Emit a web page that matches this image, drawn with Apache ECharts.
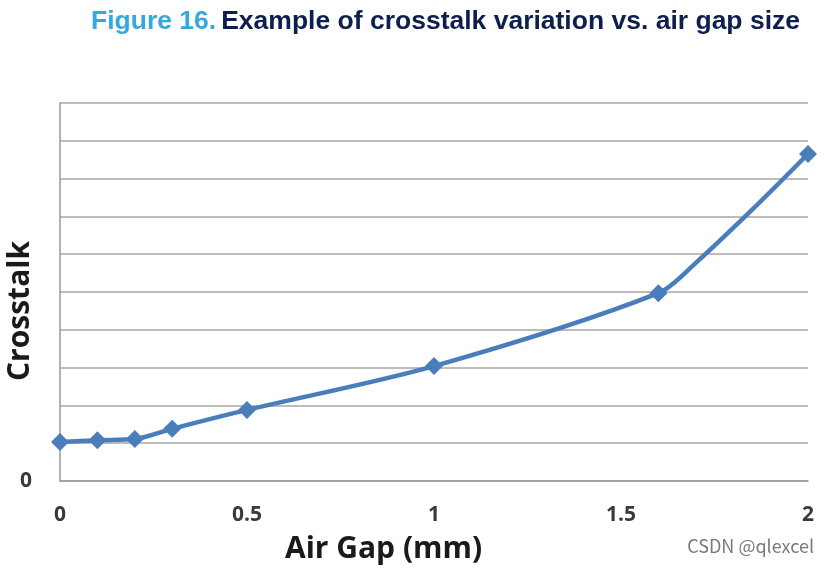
<!DOCTYPE html>
<html>
<head>
<meta charset="utf-8">
<script src="https://cdn.jsdelivr.net/npm/echarts@6/dist/echarts.min.js"></script>
<style>
html,body{margin:0;padding:0;background:#fff;}
#main{width:830px;height:569px;}
</style>
</head>
<body>
<div id="main"></div>
<script>
// air gap (mm) and crosstalk
var gapMm = [0, 0.1, 0.2, 0.3, 0.5, 1, 1.6, 1.7, 1.85, 2];
var crosstalk = [1.03, 1.08, 1.11, 1.38, 1.88, 3.04, 4.97, 5.77, 7.17, 8.65];
var hasMarker = [true, true, true, true, true, true, true, false, false, true];
var xTicks = [0, 0.5, 1, 1.5, 2];
var yLabels = ['0'];

var pts = [];
for (var i = 0; i < gapMm.length; i++) {
	var item = { value: [gapMm[i], crosstalk[i]] };
	if (!hasMarker[i]) item.symbol = 'none';
	pts.push(item);
}

var chart = echarts.init(document.getElementById('main'));
var option = {
	backgroundColor: '#fff',
	animation: false,
	title: {
		text: '{a|Figure 16.} {b|Example of crosstalk variation vs. air gap size}',
		left: 86,
		top: 3,
		textStyle: {
			rich: {
				a: { color: '#36a8dd', fontSize: 26.5, fontWeight: 'bold', fontFamily: 'Liberation Sans' },
				b: { color: '#0d1f4d', fontSize: 26.5, fontWeight: 'bold', fontFamily: 'Liberation Sans' }
			}
		}
	},
	grid: { left: 60, right: 22, top: 103, bottom: 88 },
	xAxis: {
		type: 'value',
		min: 0, max: 2, interval: 0.5,
		axisLine: { show: true, lineStyle: { color: '#9a9a9a', width: 1.5 } },
		axisTick: { show: false },
		splitLine: { show: false },
		axisLabel: {
			margin: 24,
			color: '#3a3a3a',
			fontSize: 21,
			fontFamily: 'Open Sans',
			fontWeight: 'bold',
			formatter: function (v) { return xTicks.indexOf(v) >= 0 ? String(v) : ''; }
		}
	},
	yAxis: {
		type: 'value',
		min: 0, max: 10, interval: 1,
		axisLine: { show: true, lineStyle: { color: '#9a9a9a', width: 1.5 } },
		axisTick: { show: false },
		splitLine: { show: true, lineStyle: { color: '#a6a6a6', width: 1.5 } },
		axisLabel: {
			margin: 28,
			color: '#3a3a3a',
			fontSize: 21,
			fontFamily: 'Open Sans',
			fontWeight: 'bold',
			formatter: function (v) { return yLabels.indexOf(String(v)) >= 0 ? String(v) : ''; }
		}
	},
	series: [{
		type: 'line',
		data: pts,
		smooth: 0.3,
		symbol: 'diamond',
		symbolSize: 18,
		lineStyle: { color: '#4a7ebb', width: 4.5 },
		itemStyle: { color: '#4a7ebb' }
	}],
	graphic: [
		{
			type: 'text', x: 285, y: 549,
			style: { text: 'Air Gap (mm)', fill: '#1a1a1a', font: 'bold 30px "Open Sans"', verticalAlign: 'middle' }
		},
		{
			type: 'text', x: 20, y: 311, rotation: Math.PI / 2,
			style: { text: 'Crosstalk', fill: '#1a1a1a', font: 'bold 30px "Open Sans"', align: 'center', verticalAlign: 'middle' }
		},
		{
			type: 'text', x: 814, y: 546,
			style: { text: 'CSDN @qlexcel', fill: '#7a7a7a', font: '18px "Noto Sans CJK SC"', align: 'right', verticalAlign: 'middle' }
		}
	]
};
chart.setOption(option);
window.onresize = chart.resize;
</script>
</body>
</html>
